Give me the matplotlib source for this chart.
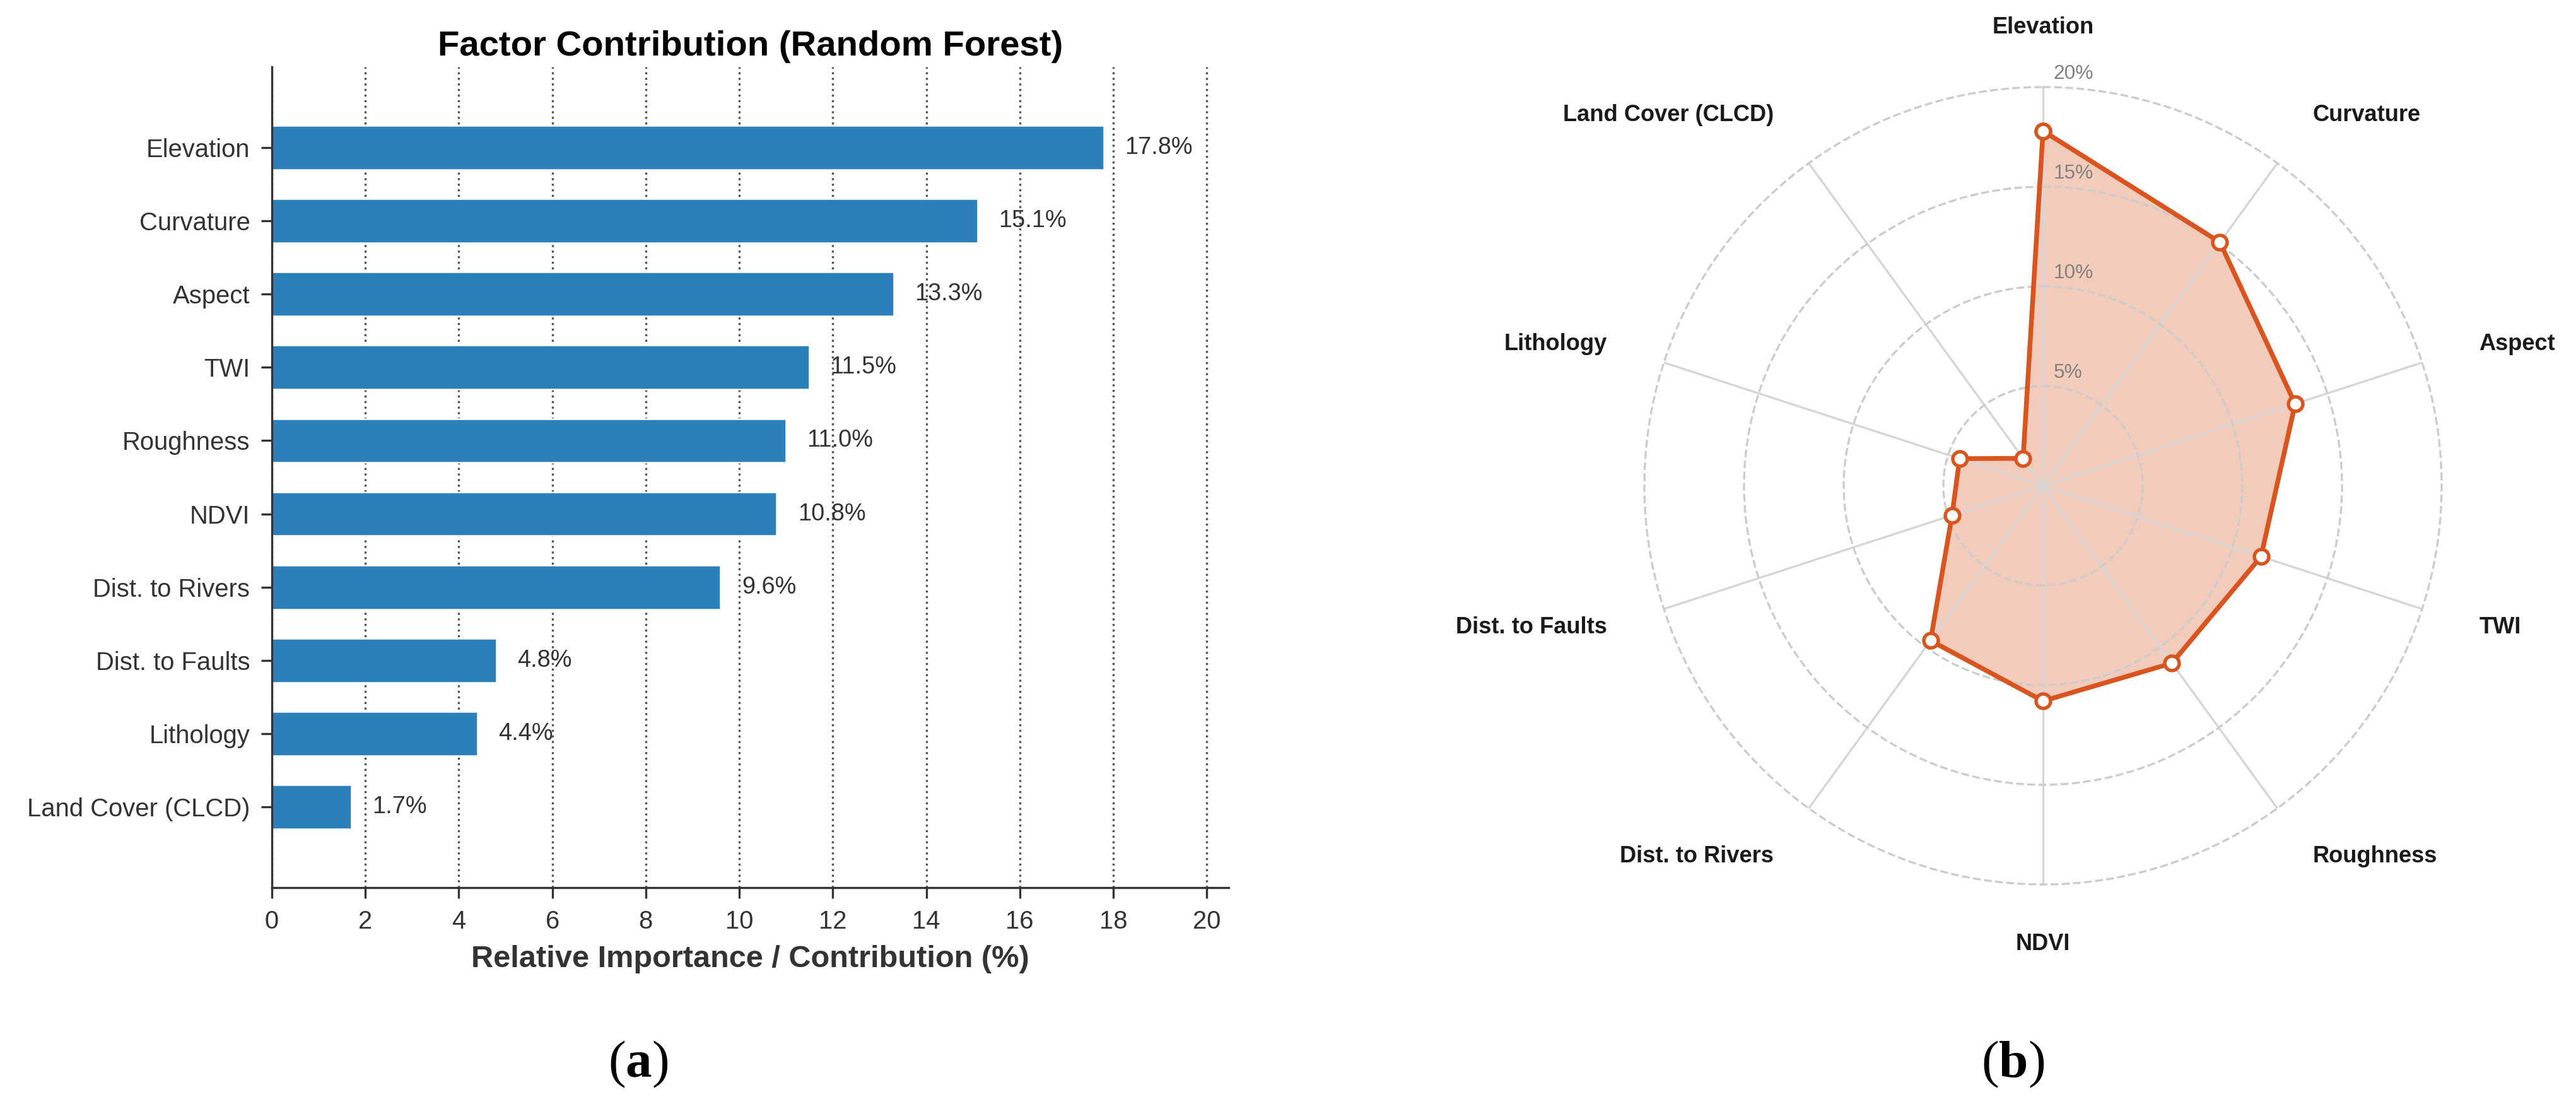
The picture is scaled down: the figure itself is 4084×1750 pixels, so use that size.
import numpy as np
import matplotlib
matplotlib.use("Agg")
import matplotlib.pyplot as plt
from matplotlib.transforms import offset_copy

plt.rcParams['font.family'] = ['Liberation Sans', 'DejaVu Sans']
plt.rcParams['mathtext.fontset'] = 'custom'
plt.rcParams['mathtext.rm'] = 'Liberation Serif'
plt.rcParams['mathtext.bf'] = 'Liberation Serif:bold'

# data
factors = ['Elevation', 'Curvature', 'Aspect', 'TWI', 'Roughness', 'NDVI',
           'Dist. to Rivers', 'Dist. to Faults', 'Lithology', 'Land Cover (CLCD)']
values = [17.8, 15.1, 13.3, 11.5, 11.0, 10.8, 9.6, 4.8, 4.4, 1.7]
x_ticks = [0, 2, 4, 6, 8, 10, 12, 14, 16, 18, 20]
r_ticks = [5, 10, 15, 20]

W, H = 4084, 1750
fig = plt.figure(figsize=(W / 300, H / 300), dpi=300)

# ---- (a) bar chart ----
ax1 = fig.add_axes([431 / W, 343 / H, 1517 / W, 1301 / H])
ax1.barh(factors[::-1], values[::-1], height=0.6, color='#2C7FB8',
         edgecolor='white', linewidth=0.6)
for i, v in enumerate(values[::-1]):
    ax1.text(v + 0.45, i, f'{v:.1f}%', va='center', ha='left',
             fontsize=9.1, color='#333333')
ax1.set_xlim(0, max(values) * 1.15)
ax1.set_ylim(-1.1, len(factors) - 1 + 1.1)
ax1.set_xticks(x_ticks)
ax1.set_axisbelow(True)
ax1.xaxis.grid(True, linestyle=':', color='#555555', linewidth=0.8)
for s in ['top', 'right']:
    ax1.spines[s].set_visible(False)
for s in ['left', 'bottom']:
    ax1.spines[s].set_color('#333333')
    ax1.spines[s].set_linewidth(0.8)
ax1.tick_params(length=4, width=0.8, color='#333333', pad=4.3,
                labelsize=9.6, labelcolor='#333333')
ax1.set_title('Factor Contribution (Random Forest)', fontsize=13.5,
              fontweight='bold', pad=4.3)
ax1.set_xlabel('Relative Importance / Contribution (%)', fontsize=11.7,
               fontweight='bold', color='#333333', labelpad=4.5)

# ---- (b) radar chart ----
ax2 = fig.add_axes([(3239 - 632) / W, (H - 770 - 632) / H, 1264 / W, 1264 / H],
                   projection='polar')
n = len(factors)
angles = np.linspace(0, 2 * np.pi, n, endpoint=False)
ang_c = np.concatenate([angles, angles[:1]])
val_c = np.concatenate([values, values[:1]])
ax2.set_theta_offset(np.pi / 2)
ax2.set_theta_direction(-1)
line_col = '#D9541E'
ax2.fill(ang_c, val_c, color=line_col, alpha=0.3, linewidth=0)
ax2.plot(ang_c, val_c, color=line_col, linewidth=1.8, marker='o',
         markersize=5.5, markerfacecolor='white', markeredgecolor=line_col,
         markeredgewidth=1.3)
ax2.set_ylim(0, 20)
ax2.set_yticks(r_ticks)
ax2.set_yticklabels([])
ax2.set_xticks(angles)
ax2.set_xticklabels([])
ax2.tick_params(length=0)
ax2.yaxis.grid(True, linestyle='--', color='#cccccc', linewidth=0.8)
ax2.xaxis.grid(True, linestyle='-', color='#d6d6d6', linewidth=0.8)
for gl in ax2.yaxis.get_gridlines():
    gl.set_clip_on(False)
ax2.spines['polar'].set_visible(False)

tr = offset_copy(ax2.transData, fig=fig, x=4, y=1.5, units='points')
for r in r_ticks:
    ax2.text(0, r, f'{r}%', transform=tr, ha='left', va='bottom',
             fontsize=7.6, color='#808080')

for a, lab in zip(angles, factors):
    if np.isclose(a, 0) or np.isclose(a, np.pi):
        ha = 'center'
    elif a < np.pi:
        ha = 'left'
    else:
        ha = 'right'
    ax2.text(a, 23, lab, ha=ha, va='center', fontsize=8.7,
             fontweight='bold', color='#1a1a1a')

# panel letters
fig.text(1012 / W, 1 - 1687 / H, r'$\mathrm{(}\mathbf{a}\mathrm{)}$',
         ha='center', va='center', fontsize=20)
fig.text(3191 / W, 1 - 1687 / H, r'$\mathrm{(}\mathbf{b}\mathrm{)}$',
         ha='center', va='center', fontsize=20)

fig.savefig('out.png', dpi=300, facecolor='white')
